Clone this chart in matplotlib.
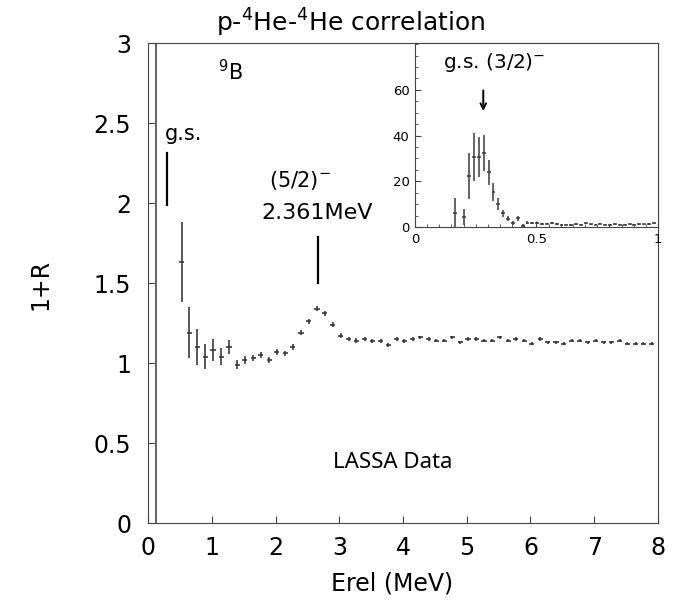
import numpy as np
import matplotlib
matplotlib.use("Agg")
from matplotlib import pyplot as plt

# main correlation function, 1+R vs Erel
erel = [0.53, 0.65, 0.77, 0.90, 1.02, 1.15, 1.27, 1.40, 1.52, 1.65,
        1.77, 1.90, 2.02, 2.15, 2.27, 2.40, 2.52, 2.65, 2.77, 2.90,
        3.02, 3.15, 3.27, 3.40, 3.52, 3.65, 3.77, 3.90, 4.02, 4.15,
        4.27, 4.40, 4.52, 4.65, 4.77, 4.90, 5.02, 5.15, 5.27, 5.40,
        5.52, 5.65, 5.77, 5.90, 6.02, 6.15, 6.27, 6.40, 6.52, 6.65,
        6.77, 6.90, 7.02, 7.15, 7.27, 7.40, 7.52, 7.65, 7.77, 7.90]
one_r = [1.63, 1.19, 1.10, 1.04, 1.08, 1.04, 1.10, 0.99, 1.02, 1.03,
         1.05, 1.02, 1.07, 1.06, 1.10, 1.19, 1.26, 1.34, 1.31, 1.24,
         1.17, 1.15, 1.14, 1.15, 1.14, 1.14, 1.11, 1.15, 1.14, 1.15,
         1.16, 1.15, 1.14, 1.14, 1.16, 1.13, 1.15, 1.15, 1.14, 1.14,
         1.16, 1.14, 1.15, 1.14, 1.12, 1.15, 1.13, 1.13, 1.12, 1.14,
         1.14, 1.13, 1.14, 1.13, 1.13, 1.14, 1.12, 1.12, 1.12, 1.12]
one_r_err = [0.25, 0.16, 0.11, 0.08, 0.07, 0.055, 0.045, 0.03, 0.025, 0.02,
             0.018, 0.018, 0.017, 0.017, 0.016, 0.016, 0.016, 0.016, 0.016, 0.015,
             0.015, 0.014, 0.014, 0.013, 0.013, 0.013, 0.012, 0.012, 0.012, 0.012,
             0.011, 0.011, 0.011, 0.011, 0.011, 0.010, 0.010, 0.010, 0.010, 0.010,
             0.010, 0.010, 0.010, 0.010, 0.010, 0.010, 0.009, 0.009, 0.009, 0.009,
             0.009, 0.009, 0.009, 0.009, 0.009, 0.009, 0.009, 0.009, 0.009, 0.009]

# inset: ground state region
e_in = [0.163, 0.203, 0.223, 0.243, 0.263, 0.283, 0.303, 0.323, 0.343, 0.363,
        0.383, 0.403, 0.423, 0.443, 0.463, 0.483, 0.503, 0.523, 0.543, 0.563,
        0.583, 0.603, 0.623, 0.643, 0.663, 0.683, 0.703, 0.723, 0.743, 0.763,
        0.783, 0.803, 0.823, 0.843, 0.863, 0.883, 0.903, 0.923, 0.943, 0.963,
        0.983]
y_in = [6.3, 4.5, 22.4, 30.6, 30.6, 32.4, 23.9, 15.2, 10.1, 6.0,
        3.7, 1.6, 3.8, 0.6, 1.8, 1.6, 1.7, 1.2, 1.5, 1.9,
        1.2, 0.9, 1.0, 0.9, 1.3, 1.0, 1.6, 1.1, 1.0, 1.4,
        1.0, 0.9, 1.1, 1.0, 1.0, 1.1, 1.0, 1.2, 1.2, 1.3,
        1.6]
y_in_err = [6.3, 3.5, 10.0, 10.6, 8.7, 7.9, 5.5, 4.0, 2.6, 1.5,
            1.2, 0.8, 1.0, 0.5, 0.6, 0.5, 0.5, 0.4, 0.4, 0.4,
            0.4, 0.3, 0.3, 0.3, 0.3, 0.3, 0.3, 0.3, 0.3, 0.3,
            0.3, 0.3, 0.3, 0.3, 0.3, 0.3, 0.3, 0.3, 0.3, 0.3,
            0.3]

fig = plt.figure(figsize=(6.75, 6.04), dpi=100)
ax = fig.add_axes([0.2193, 0.1341, 0.7555, 0.7947])

ax.errorbar(erel, one_r, yerr=one_r_err, xerr=0.04, fmt="none",
            ecolor="#3a3a3a", elinewidth=1.2)
ax.axvline(0.125, color="#555555", lw=1.3)

# level markers
ax.plot([0.30, 0.30], [1.99, 2.31], color="black", lw=1.6)
ax.plot([2.66, 2.66], [1.50, 1.79], color="black", lw=1.6)
ax.text(0.27, 2.43, "g.s.", fontsize=15, va="center", ha="left")
ax.text(1.1, 2.82, r"$^9$B", fontsize=15, va="center", ha="left")
ax.text(2.38, 2.14, r"(5/2)$^{-}$", fontsize=15, va="center", ha="center")
ax.text(2.65, 1.94, "2.361MeV", fontsize=16, va="center", ha="center")
ax.text(2.9, 0.38, "LASSA Data", fontsize=16, va="center", ha="left",
        family="Noto Sans")

ax.set_xlim(0, 8)
ax.set_ylim(0, 3)
ax.set_xticks(range(0, 9))
ax.set_yticks([0, 0.5, 1, 1.5, 2, 2.5, 3])
ax.set_yticklabels(["0", "0.5", "1", "1.5", "2", "2.5", "3"])
ax.tick_params(direction="in", length=5, labelsize=17, color="#444444")
ax.tick_params(axis="y", pad=12)
ax.tick_params(axis="x", pad=9)
for s in ax.spines.values():
    s.set_color("#444444")
ax.set_xlabel("Erel (MeV)", fontsize=17)
ax.set_ylabel("1+R", fontsize=17)
ax.xaxis.set_label_coords(0.478, -0.102)
ax.yaxis.set_label_coords(-0.188, 0.496)

fig.text(0.52, 0.962, r"p-$^4$He-$^4$He correlation", fontsize=18,
         ha="center", va="center")

# inset
ins = fig.add_axes([0.6148, 0.6242, 0.3600, 0.3046])
ins.errorbar(e_in, y_in, yerr=y_in_err, xerr=0.008, fmt="none",
             ecolor="#3a3a3a", elinewidth=1.1)
ins.annotate("", xy=(0.281, 49.5), xytext=(0.281, 61),
             arrowprops=dict(arrowstyle="->", color="black", lw=1.4))
ins.text(0.325, 72, r"g.s. (3/2)$^{-}$", fontsize=14.5, ha="center", va="center")
ins.set_xlim(0, 1)
ins.set_ylim(0, 80.5)
ins.set_xticks([0, 0.5, 1])
ins.set_xticklabels(["0", "0.5", "1"])
ins.set_yticks([0, 20, 40, 60])
ins.set_xticks(np.arange(0, 1.0001, 0.05), minor=True)
ins.set_yticks(np.arange(0, 80.1, 5), minor=True)
ins.tick_params(direction="in", length=4, labelsize=9.5, color="#444444")
ins.tick_params(which="minor", direction="in", length=2.5, color="#444444")
ins.tick_params(axis="y", pad=4)
ins.tick_params(axis="x", pad=4)
for s in ins.spines.values():
    s.set_color("#444444")

fig.savefig("out.png", dpi=100)
